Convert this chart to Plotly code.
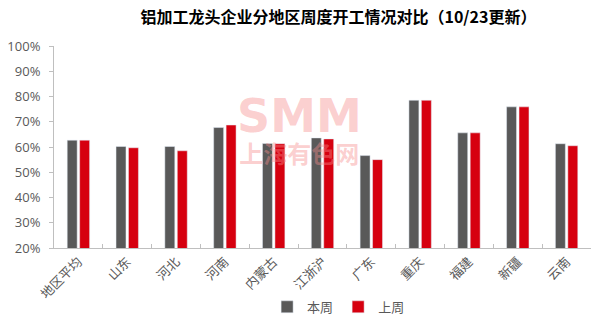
import plotly.graph_objects as go

# Regions and weekly operating rates (%)
regions = ["地区平均", "山东", "河北", "河南", "内蒙古", "江浙沪", "广东", "重庆", "福建", "新疆", "云南"]
this_week = [62.7, 60.2, 60.2, 67.7, 61.4, 63.6, 56.6, 78.5, 65.6, 75.9, 61.3]
last_week = [62.7, 59.7, 58.5, 68.7, 61.3, 63.2, 55.0, 78.5, 65.6, 75.9, 60.5]

y_ticks = [20, 30, 40, 50, 60, 70, 80, 90, 100]
y_tick_text = [f"{v}%" for v in y_ticks]

GREY = "#595959"
RED = "#d6000f"
AXIS = "#bfbfbf"
CJK = "Noto Sans CJK SC"
MARK = "rgba(247,140,140,0.42)"

fig = go.Figure()
fig.add_trace(go.Bar(name="本周", x=regions, y=this_week, marker_color=GREY))
fig.add_trace(go.Bar(name="上周", x=regions, y=last_week, marker_color=RED))

# SMM watermark (logo line + site name)
fig.add_annotation(
    text="<span style='font-family:DejaVu Sans;font-size:46px'><b>SMM</b></span>"
         "<br><b>上海有色网</b>",
    x=0.458, y=0.585, xref="paper", yref="paper",
    xanchor="center", yanchor="middle", showarrow=False,
    font=dict(family=CJK, size=24, color=MARK))

fig.update_layout(
    width=612, height=323,
    margin=dict(l=54, r=21, t=46, b=75),
    paper_bgcolor="white", plot_bgcolor="white",
    font=dict(family=CJK, color=GREY, size=12),
    title=dict(text="<b>铝加工龙头企业分地区周度开工情况对比（10/23更新）</b>",
               x=0.553, xanchor="center", y=0.945, yanchor="middle",
               font=dict(family=CJK, size=16, color="black")),
    barmode="group", bargap=0.49, bargroupgap=0.2,
    showlegend=True,
    legend=dict(orientation="h", x=0.53, xanchor="center",
                yref="container", y=0.05, yanchor="middle",
                font=dict(family=CJK, size=13, color=GREY), itemwidth=30,
                traceorder="normal", tracegroupgap=0),
    xaxis=dict(showline=True, linecolor=AXIS, linewidth=1, ticks="inside",
               tickson="boundaries", ticklen=4, tickcolor=AXIS, tickangle=-45,
               tickfont=dict(family=CJK, size=13, color=GREY), showgrid=False,
               automargin=False),
    yaxis=dict(range=[20, 100], tickmode="array", tickvals=y_ticks, ticktext=y_tick_text,
               showline=True, linecolor=AXIS, linewidth=1, ticks="outside", ticklen=4,
               tickcolor=AXIS, showgrid=False, zeroline=False, automargin=False,
               ticklabelstandoff=6,
               tickfont=dict(family="Open Sans", size=13, color=GREY)),
)

fig.write_html("out.html")
